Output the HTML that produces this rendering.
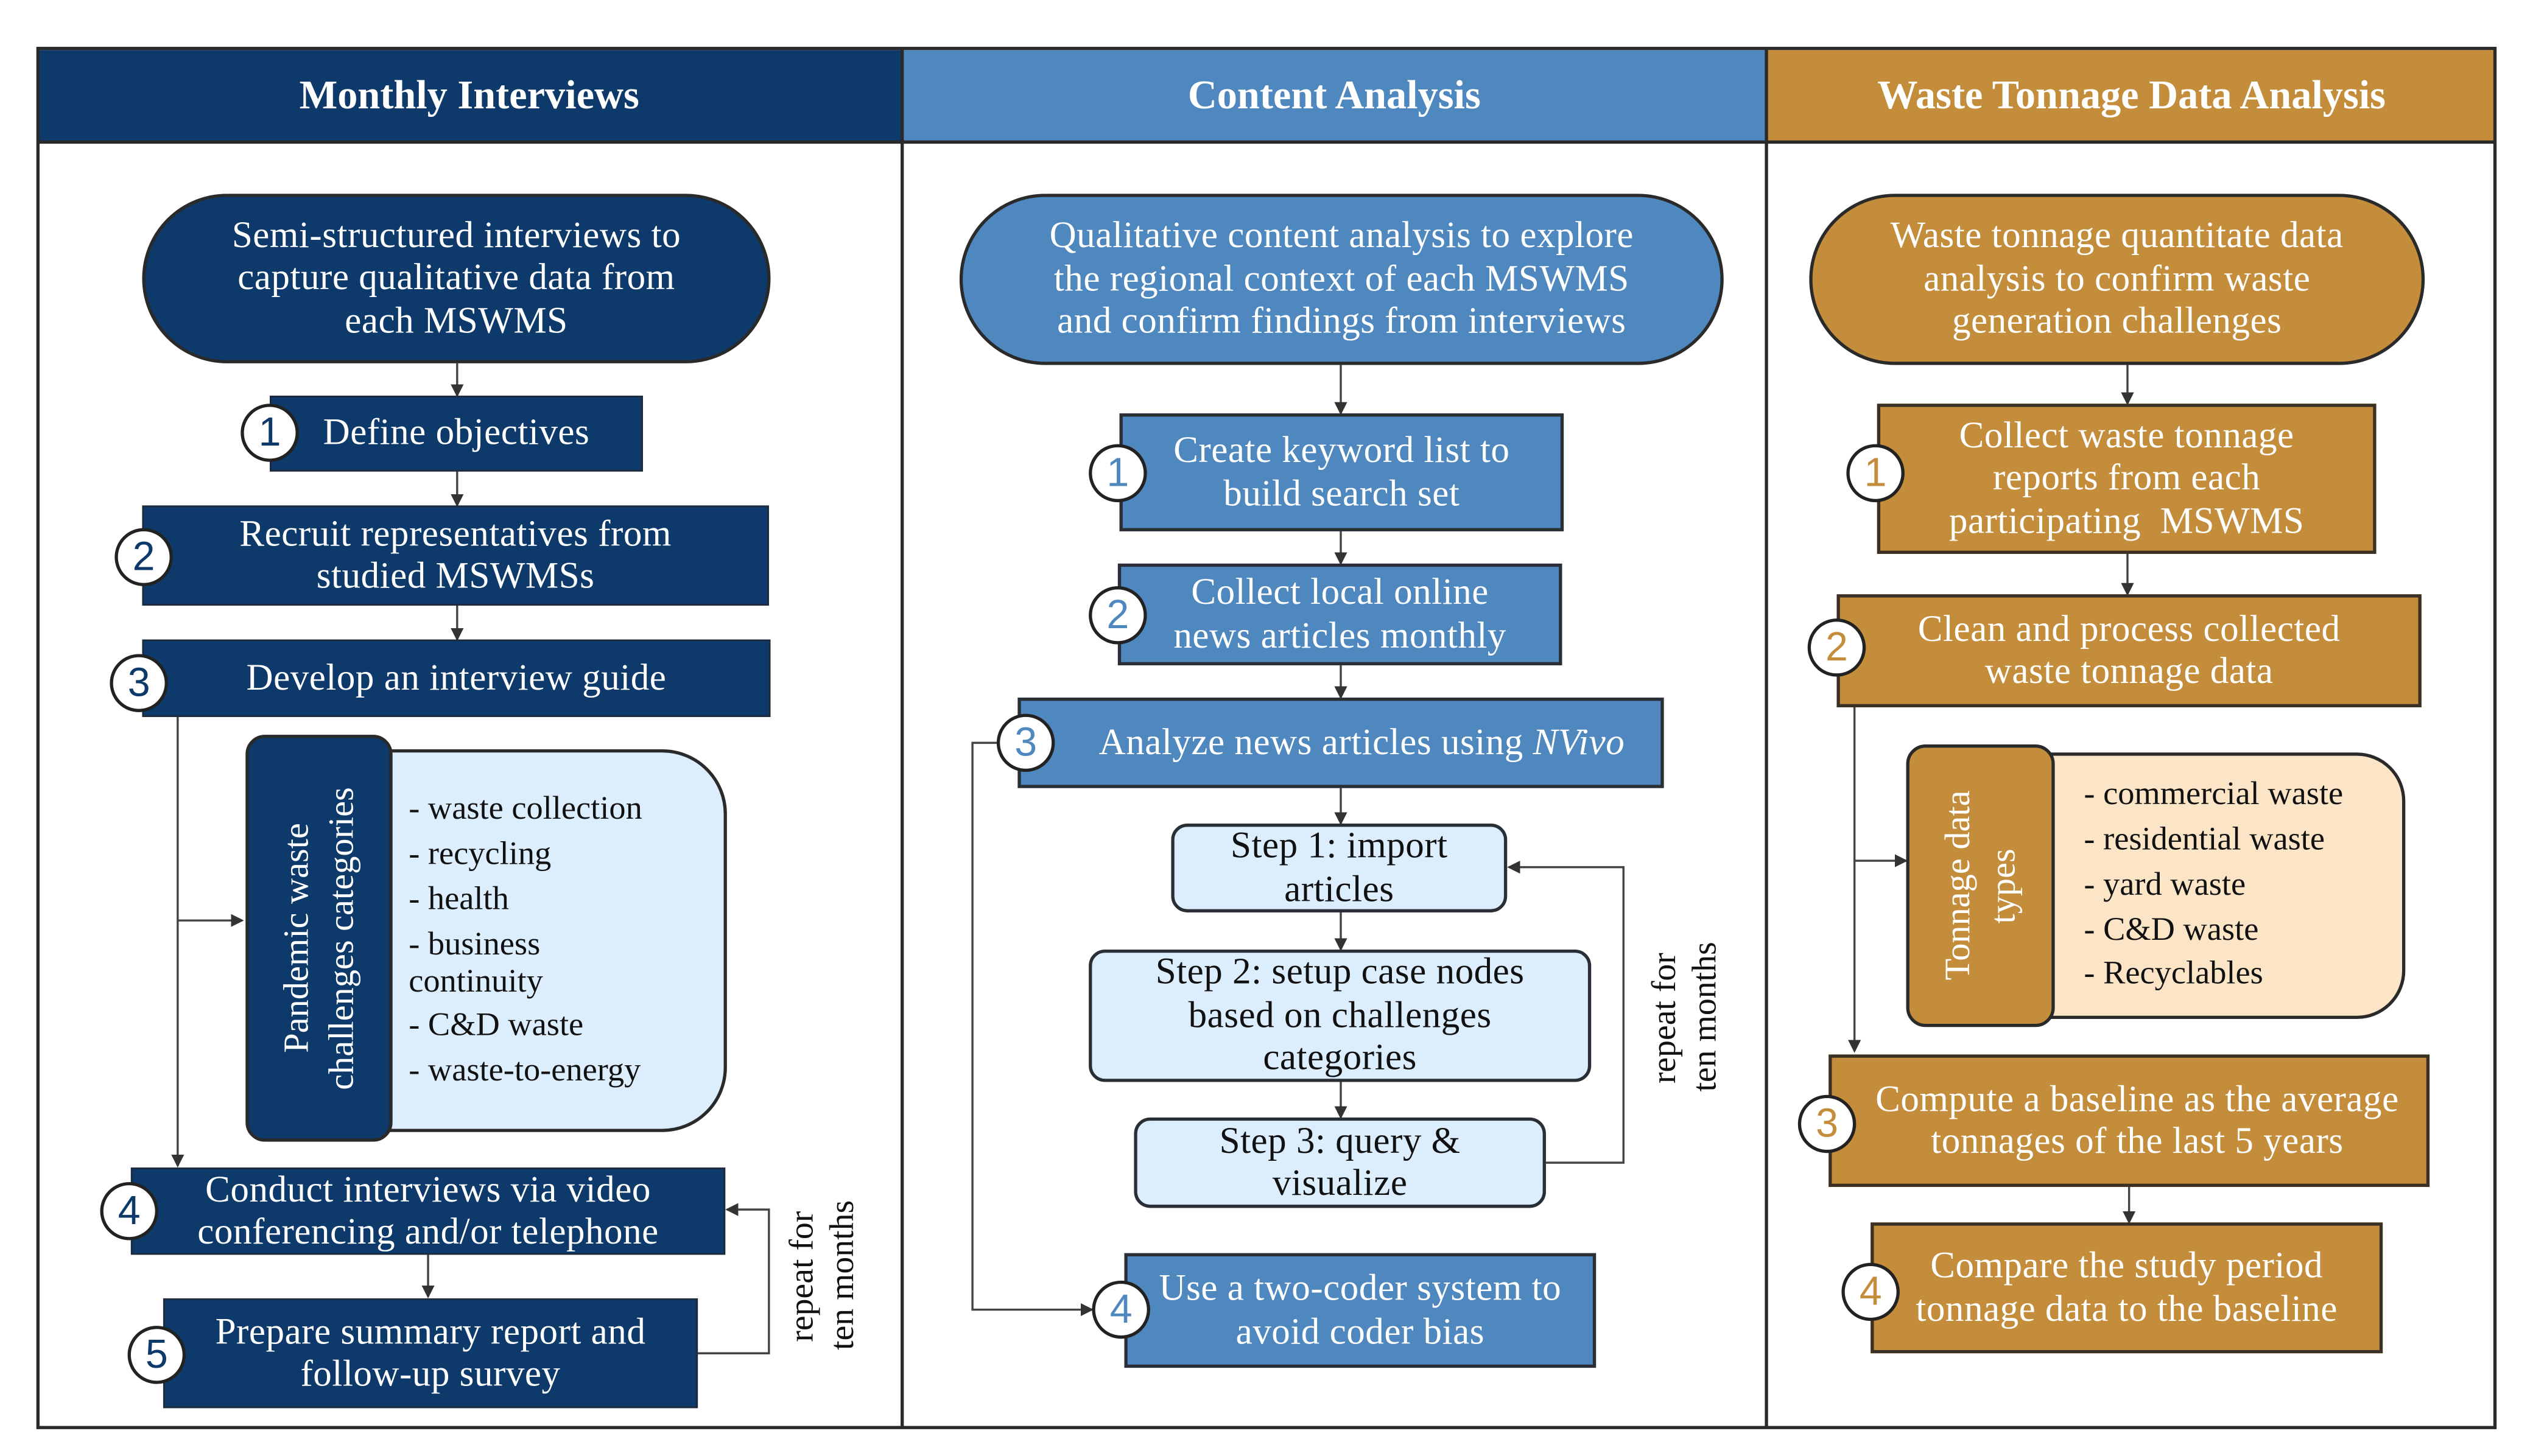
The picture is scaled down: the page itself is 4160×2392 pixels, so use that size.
<!DOCTYPE html>
<html><head><meta charset="utf-8"><style>
html,body{margin:0;padding:0;background:#fff;}
#wrap{position:relative;width:4160px;height:2392px;overflow:hidden;background:#fff;}
#s{position:absolute;left:0;top:0;width:1570px;height:902px;transform:scale(2.653);transform-origin:0 0;}
.b{position:absolute;display:flex;align-items:center;justify-content:center;text-align:center;color:#fff;font-family:"Liberation Serif",serif;font-size:23px;letter-spacing:0.2px;line-height:26.5px;box-sizing:border-box;white-space:nowrap;}
.n{background:#0d3a6a;border:1.5px solid #1e2a3a;}
.m{background:#4f87bf;border:2px solid #2a2f36;}
.g{background:#c48d3b;border:2px solid #3a3023;}
.lb{background:#dcedfd;border:2px solid #2a2f36;color:#111;border-radius:10px;}
.ov{border-radius:56px;border:2px solid #2a2a2a;}
.c{position:absolute;width:36px;height:36px;border-radius:50%;background:#fff;border:2.5px solid #222;box-sizing:border-box;display:flex;align-items:center;justify-content:center;font-family:"Liberation Sans",sans-serif;font-size:25px;}
.h{position:absolute;top:31px;height:57px;display:flex;align-items:center;justify-content:center;color:#fff;font-family:"Liberation Serif",serif;font-weight:bold;font-size:25px;}
.vt{position:absolute;writing-mode:vertical-rl;transform:rotate(180deg);display:flex;align-items:center;justify-content:center;text-align:center;font-family:"Liberation Serif",serif;white-space:nowrap;}
.li{position:absolute;font-family:"Liberation Serif",serif;font-size:20.5px;color:#111;line-height:23px;white-space:nowrap;}
</style></head><body><div id="wrap"><div id="s">

<div class="h" style="left:23px;width:535px;background:#0d3a6a;">Monthly Interviews</div>
<div class="h" style="left:559px;width:534px;background:#4f87bf;">Content Analysis</div>
<div class="h" style="left:1094px;width:451px;background:#c48d3b;">Waste Tonnage Data Analysis</div>

<svg style="position:absolute;left:0;top:0" width="1570" height="902" viewBox="0 0 1570 902">
<defs><marker id="a" markerWidth="8" markerHeight="8" refX="7" refY="4" orient="auto" markerUnits="userSpaceOnUse"><path d="M0,0 L8,4 L0,8 z" fill="#333"/></marker></defs>
<rect x="23.5" y="30" width="1521" height="854" fill="none" stroke="#2a2a2a" stroke-width="2"/>
<line x1="23" y1="88" x2="1545" y2="88" stroke="#2a2a2a" stroke-width="2"/>
<line x1="558.5" y1="30" x2="558.5" y2="884" stroke="#2a2a2a" stroke-width="2"/>
<line x1="1093.5" y1="30" x2="1093.5" y2="884" stroke="#2a2a2a" stroke-width="2"/>
<g stroke="#444" stroke-width="1.3" fill="none">
<line x1="283" y1="225" x2="283" y2="245" marker-end="url(#a)"/>
<line x1="283" y1="292" x2="283" y2="313" marker-end="url(#a)"/>
<line x1="283" y1="375" x2="283" y2="396" marker-end="url(#a)"/>
<line x1="110" y1="444" x2="110" y2="722" marker-end="url(#a)"/>
<line x1="110" y1="570" x2="150" y2="570" marker-end="url(#a)"/>
<line x1="265" y1="777" x2="265" y2="803" marker-end="url(#a)"/>
<polyline points="432,838 476,838 476,749 450,749" marker-end="url(#a)"/>
<line x1="830" y1="226" x2="830" y2="256" marker-end="url(#a)"/>
<line x1="830" y1="329" x2="830" y2="349" marker-end="url(#a)"/>
<line x1="830" y1="412" x2="830" y2="432" marker-end="url(#a)"/>
<line x1="830" y1="488" x2="830" y2="510" marker-end="url(#a)"/>
<line x1="830" y1="565" x2="830" y2="588" marker-end="url(#a)"/>
<line x1="830" y1="670" x2="830" y2="692" marker-end="url(#a)"/>
<polyline points="957,720 1005,720 1005,537 934,537" marker-end="url(#a)"/>
<polyline points="630,460 602,460 602,811 676,811" marker-end="url(#a)"/>
<line x1="1317" y1="226" x2="1317" y2="250" marker-end="url(#a)"/>
<line x1="1317" y1="343" x2="1317" y2="368" marker-end="url(#a)"/>
<line x1="1148" y1="438" x2="1148" y2="651" marker-end="url(#a)"/>
<line x1="1148" y1="533" x2="1180" y2="533" marker-end="url(#a)"/>
<line x1="1318" y1="735" x2="1318" y2="757" marker-end="url(#a)"/>
</g>
</svg>

<div class="b n ov" style="left:88px;top:120px;width:389px;height:105px;border-color:#2a2a2a;">Semi-structured interviews to<br>capture qualitative data from<br>each MSWMS</div>
<div class="b n" style="left:167px;top:245px;width:231px;height:47px;">Define objectives</div>
<div class="c" style="left:149px;top:250px;color:#0d3a6a;">1</div>
<div class="b n" style="left:88px;top:313px;width:388px;height:62px;">Recruit representatives from<br>studied MSWMSs</div>
<div class="c" style="left:71px;top:327px;color:#0d3a6a;">2</div>
<div class="b n" style="left:88px;top:396px;width:389px;height:48px;">Develop an interview guide</div>
<div class="c" style="left:68px;top:405px;color:#0d3a6a;">3</div>

<div style="position:absolute;left:233px;top:464px;width:217px;height:237px;background:#dcedfd;border:2px solid #2a2a2a;border-radius:0 40px 40px 0;box-sizing:border-box;"></div>
<div class="vt" style="left:152px;top:455px;width:91px;height:252px;background:#0d3a6a;border:2px solid #2a2a2a;border-radius:12px;box-sizing:border-box;color:#fff;font-size:22px;line-height:28px;">Pandemic waste<br>challenges categories</div>
<div class="li" style="left:253px;top:490px;">- waste collection</div>
<div class="li" style="left:253px;top:518px;">- recycling</div>
<div class="li" style="left:253px;top:546px;">- health</div>
<div class="li" style="left:253px;top:574px;">- business<br>continuity</div>
<div class="li" style="left:253px;top:624px;">- C&amp;D waste</div>
<div class="li" style="left:253px;top:652px;">- waste-to-energy</div>

<div class="b n" style="left:81px;top:723px;width:368px;height:54px;">Conduct interviews via video<br>conferencing and/or telephone</div>
<div class="c" style="left:62px;top:732px;color:#0d3a6a;">4</div>
<div class="b n" style="left:101px;top:804px;width:331px;height:68px;">Prepare summary report and<br>follow-up survey</div>
<div class="c" style="left:79px;top:821px;color:#0d3a6a;">5</div>
<div class="vt" style="left:484px;top:730px;width:50px;height:120px;color:#111;font-size:21px;line-height:25px;">repeat for<br>ten months</div>

<div class="b m ov" style="left:594px;top:120px;width:473px;height:106px;">Qualitative content analysis to explore<br>the regional context of each MSWMS<br>and confirm findings from interviews</div>
<div class="b m" style="left:693px;top:256px;width:275px;height:73px;">Create keyword list to<br>build search set</div>
<div class="c" style="left:674px;top:275px;color:#4f87bf;">1</div>
<div class="b m" style="left:692px;top:349px;width:275px;height:63px;">Collect local online<br>news articles monthly</div>
<div class="c" style="left:674px;top:363px;color:#4f87bf;">2</div>
<div class="b m" style="left:630px;top:432px;width:400px;height:56px;padding-left:26px;">Analyze news articles using&nbsp;<i>NVivo</i></div>
<div class="c" style="left:617px;top:442px;color:#4f87bf;">3</div>
<div class="b lb" style="left:725px;top:510px;width:208px;height:55px;">Step 1: import<br>articles</div>
<div class="b lb" style="left:674px;top:588px;width:311px;height:82px;">Step 2: setup case nodes<br>based on challenges<br>categories</div>
<div class="b lb" style="left:702px;top:692px;width:255px;height:56px;">Step 3: query &amp;<br>visualize</div>
<div class="vt" style="left:1017px;top:560px;width:52px;height:140px;color:#111;font-size:21px;line-height:25px;">repeat for<br>ten months</div>
<div class="b m" style="left:696px;top:776px;width:292px;height:71px;">Use a two-coder system to<br>avoid coder bias</div>
<div class="c" style="left:676px;top:793px;color:#4f87bf;">4</div>

<div class="b g ov" style="left:1120px;top:120px;width:381px;height:106px;">Waste tonnage quantitate data<br>analysis to confirm waste<br>generation challenges</div>
<div class="b g" style="left:1162px;top:250px;width:309px;height:93px;">Collect waste tonnage<br>reports from each<br>participating&nbsp; MSWMS</div>
<div class="c" style="left:1143px;top:275px;color:#c48d3b;">1</div>
<div class="b g" style="left:1137px;top:368px;width:362px;height:70px;">Clean and process collected<br>waste tonnage data</div>
<div class="c" style="left:1119px;top:383px;color:#c48d3b;">2</div>

<div style="position:absolute;left:1262px;top:466px;width:227px;height:165px;background:#fbe5c6;border:2px solid #2a2a2a;border-radius:0 30px 30px 0;box-sizing:border-box;"></div>
<div class="vt" style="left:1180px;top:461px;width:92px;height:175px;background:#c48d3b;border:2px solid #2a2a2a;border-radius:12px;box-sizing:border-box;color:#fff;font-size:22px;line-height:28px;">Tonnage data<br>types</div>
<div class="li" style="left:1290px;top:481px;">- commercial waste</div>
<div class="li" style="left:1290px;top:509px;">- residential waste</div>
<div class="li" style="left:1290px;top:537px;">- yard waste</div>
<div class="li" style="left:1290px;top:565px;">- C&amp;D waste</div>
<div class="li" style="left:1290px;top:592px;">- Recyclables</div>

<div class="b g" style="left:1132px;top:653px;width:372px;height:82px;padding-left:10px;">Compute a baseline as the average<br>tonnages of the last 5 years</div>
<div class="c" style="left:1113px;top:678px;color:#c48d3b;">3</div>
<div class="b g" style="left:1158px;top:757px;width:317px;height:81px;">Compare the study period<br>tonnage data to the baseline</div>
<div class="c" style="left:1140px;top:782px;color:#c48d3b;">4</div>

</div></div></body></html>
